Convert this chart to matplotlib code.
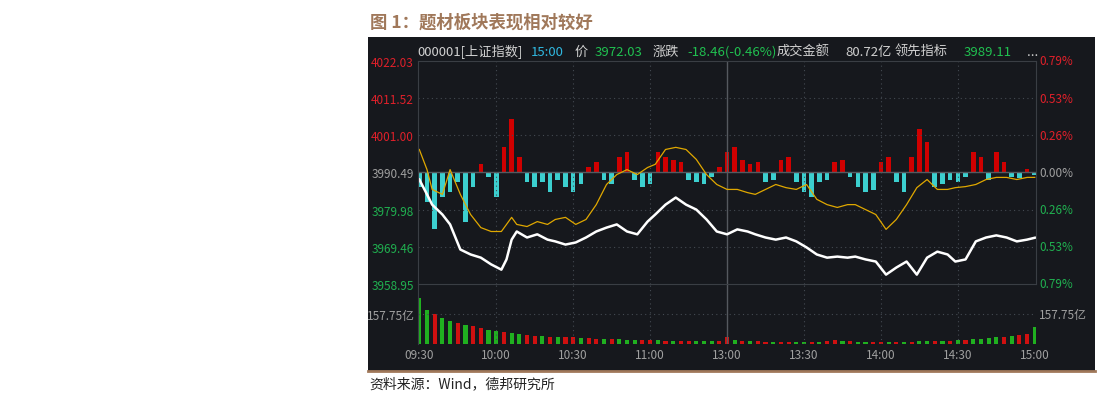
import numpy as np
import matplotlib.pyplot as plt
from matplotlib.patches import Rectangle

plt.rcParams['font.family'] = ['Noto Sans CJK SC', 'DejaVu Sans']

prev_close = 3990.49
price_ticks = [4022.03, 4011.52, 4001.00, 3990.49, 3979.98, 3969.46, 3958.95]
pct_ticks = ['0.79%', '0.53%', '0.26%', '0.00%', '0.26%', '0.53%', '0.79%']
time_labels = ['09:30', '10:00', '10:30', '11:00', '13:00', '13:30', '14:00', '14:30', '15:00']

# minute index (0..240) of sampled points
minutes = [0, 3, 5, 9, 12, 16, 20, 24, 28, 32, 34, 36, 38, 42, 46, 50, 53, 57, 61, 65, 69, 73, 77, 81,
           85, 89, 92, 96, 100, 104, 108, 112, 116, 120, 124, 128, 131, 135, 139, 143, 147, 151, 155,
           159, 163, 167, 170, 174, 178, 182, 186, 190, 194, 198, 202, 206, 209, 213, 217, 221, 225,
           229, 233, 237, 240]
price = [3988.5, 3984.3, 3981.4, 3978.6, 3975.8, 3968.7, 3967.3, 3966.4, 3964.5, 3963.0, 3965.9,
         3971.5, 3973.8, 3972.1, 3973.0, 3971.5, 3971.0, 3970.1, 3970.7, 3972.1, 3973.8, 3974.9,
         3975.8, 3973.8, 3973.0, 3976.6, 3978.6, 3981.4, 3983.4, 3981.4, 3980.0, 3977.2, 3973.8,
         3973.0, 3974.4, 3973.8, 3973.0, 3972.1, 3971.5, 3972.1, 3971.0, 3969.3, 3967.3, 3966.4,
         3966.7, 3966.4, 3966.7, 3965.9, 3965.3, 3961.6, 3963.6, 3965.3, 3961.6, 3966.4, 3968.1,
         3967.3, 3965.3, 3965.9, 3971.0, 3972.1, 3972.7, 3972.1, 3971.0, 3971.5, 3972.03]
lead = [3997.0, 3991.3, 3985.7, 3984.3, 3991.3, 3984.3, 3978.6, 3974.9, 3973.8, 3973.8, 3975.8,
        3977.8, 3975.8, 3975.2, 3976.6, 3975.8, 3977.2, 3977.8, 3975.8, 3977.2, 3981.4, 3987.1,
        3989.9, 3991.3, 3989.9, 3991.9, 3992.8, 3997.0, 3997.6, 3997.0, 3994.2, 3989.9, 3987.1,
        3985.7, 3985.7, 3984.8, 3984.3, 3985.7, 3987.1, 3986.2, 3985.7, 3987.1, 3982.9, 3981.4,
        3980.6, 3981.4, 3981.4, 3980.0, 3978.6, 3974.4, 3977.2, 3981.4, 3986.2, 3988.5, 3985.7,
        3985.7, 3986.2, 3986.5, 3987.1, 3988.5, 3989.1, 3989.1, 3988.5, 3989.1, 3989.11]

# buy/sell strength bars, every 3 minutes
strength = [-15, -30, -57, -25, -20, -10, -50, -15, 8, -5, -25, 25, 53, 15, -10, -15, -10, -20, -8,
            -15, -20, -12, 5, 10, -8, -12, 15, 20, -8, -15, -12, 20, 15, 12, 10, -8, -10, -12, -5, 5,
            20, 25, 12, 8, 10, -10, -8, 12, 15, -10, -20, -25, -10, -8, 10, 12, -5, -15, -20, -18, 10,
            15, -10, -20, 15, 43, 30, -15, -12, -8, -10, -5, 20, 15, -8, 20, 10, -5, -6, 3, -3]

# volume (亿), every 3 minutes
volume = [245, 180, 160, 140, 125, 110, 100, 95, 85, 75, 70, 65, 60, 55, 50, 45, 42, 40, 38, 36,
          35, 33, 30, 28, 28, 27, 25, 24, 22, 22, 20, 20, 18, 18, 17, 16, 16, 15, 15, 15, 40, 20,
          15, 14, 14, 13, 13, 12, 12, 12, 12, 12, 13, 14, 20, 16, 14, 13, 13, 12, 12, 12, 12, 13,
          13, 14, 15, 16, 17, 18, 20, 22, 25, 28, 30, 35, 40, 45, 50, 55, 90]
vol_dir = 'ggrggrgrrggrggrrgrgrrgrrgrgggrrgrgrrgggrrgrgrrgrrggrgrrgrggrrgrgrggrgrgrggggrgrr'

bg = '#16181d'
fig = plt.figure(figsize=(11.1, 4.1), dpi=100)
fig.add_artist(Rectangle((0.3315, 0.0927), 0.655, 0.8146, transform=fig.transFigure,
                         facecolor=bg, edgecolor='none', zorder=0))
fig.add_artist(plt.Line2D([0.3315, 0.9865], [0.0927, 0.0927], color='#a0785a', lw=2))
fig.text(0.333, 0.945, '图 1：题材板块表现相对较好', color='#a0785a', fontsize=12.5,
         fontweight='bold', va='center')
fig.text(0.333, 0.062, '资料来源：Wind，德邦研究所', color='#222222', fontsize=10, va='center')

hy = 0.873
parts = [('000001[上证指数]', '#d0d0d0', 0.376), ('15:00', '#30b8e0', 0.478),
         ('价', '#d0d0d0', 0.518), ('3972.03', '#20c050', 0.536), ('涨跌', '#d0d0d0', 0.588),
         ('-18.46(-0.46%)', '#20c050', 0.619), ('成交金额', '#d0d0d0', 0.70),
         ('80.72亿', '#d0d0d0', 0.762), ('领先指标', '#d0d0d0', 0.806),
         ('3989.11', '#20c050', 0.868), ('...', '#d0d0d0', 0.925)]
for t, c, x in parts:
    fig.text(x, hy, t, color=c, fontsize=9.5, va='center')

ax = fig.add_axes([0.3766, 0.3049, 0.5568, 0.5439])
ax.set_facecolor(bg)
ax.set_xlim(-0.5, 240.5)
ax.set_ylim(price_ticks[-1], price_ticks[0])
for p in price_ticks[1:-1]:
    ax.axhline(p, color='#444a52', lw=0.8, ls=(0, (1, 3)))
for m in [30, 60, 90, 150, 180, 210]:
    ax.axvline(m, color='#444a52', lw=0.8, ls=(0, (1, 3)))
ax.axvline(120, color='#55595f', lw=1)
ax.axhline(prev_close, color='#555a60', lw=1)

axb = ax.twinx()
axb.set_ylim(-111.5, 111.5)
sx = np.arange(len(strength)) * 3
s = np.array(strength)
axb.bar(sx, s, width=1.8, color=np.where(s > 0, '#d00000', '#3ccfcf'), zorder=2)
axb.axis('off')

ax.set_zorder(axb.get_zorder() + 1)
ax.patch.set_visible(False)
ax.plot(minutes, lead, color='#e0a800', lw=0.9)
ax.plot(minutes, price, color='white', lw=1.8)

ax.set_yticks(price_ticks)
ax.set_yticklabels([f'{p:.2f}' for p in price_ticks])
for i, lab in enumerate(ax.get_yticklabels()):
    lab.set_color('#e0202a' if i < 3 else ('#a0a0a0' if i == 3 else '#20b050'))
ax.tick_params(axis='y', length=0, labelsize=8.5, pad=3)
ax.set_xticks([])
for sp in ax.spines.values():
    sp.set_color('#3a3e44')
for i, t in enumerate(pct_ticks):
    c = '#e0202a' if i < 3 else ('#a0a0a0' if i == 3 else '#20b050')
    ax.text(1.005, (price_ticks[i] - price_ticks[-1]) / (price_ticks[0] - price_ticks[-1]), t,
            transform=ax.transAxes, color=c, fontsize=8.5, va='center', ha='left')

axv = fig.add_axes([0.3766, 0.1585, 0.5568, 0.1463])
axv.set_facecolor(bg)
axv.set_xlim(-0.5, 240.5)
axv.set_ylim(0, 320)
vx = np.arange(len(volume)) * 3
axv.bar(vx, volume, width=1.6,
        color=['#20b020' if d == 'g' else '#d01010' for d in vol_dir])
axv.axhline(157.75, color='#444a52', lw=0.8, ls=(0, (1, 3)))
for m in [30, 60, 90, 150, 180, 210]:
    axv.axvline(m, color='#444a52', lw=0.8, ls=(0, (1, 3)))
axv.axvline(120, color='#55595f', lw=1)
axv.set_yticks([157.75])
axv.set_yticklabels(['157.75亿'], color='#a0a0a0')
axv.tick_params(axis='y', length=0, labelsize=8.5, pad=2)
axv.text(1.005, 157.75 / 320, '157.75亿', transform=axv.transAxes, color='#a0a0a0',
         fontsize=8.5, va='center')
axv.set_xticks([0, 30, 60, 90, 120, 150, 180, 210, 240])
axv.set_xticklabels(time_labels, color='#a0a0a0')
axv.tick_params(axis='x', length=0, labelsize=8.5, pad=3)
for sp in axv.spines.values():
    sp.set_visible(False)
axv.spines['left'].set_visible(True)
axv.spines['left'].set_color('#3a3e44')

fig.savefig('out.png', dpi=100, facecolor='white')
